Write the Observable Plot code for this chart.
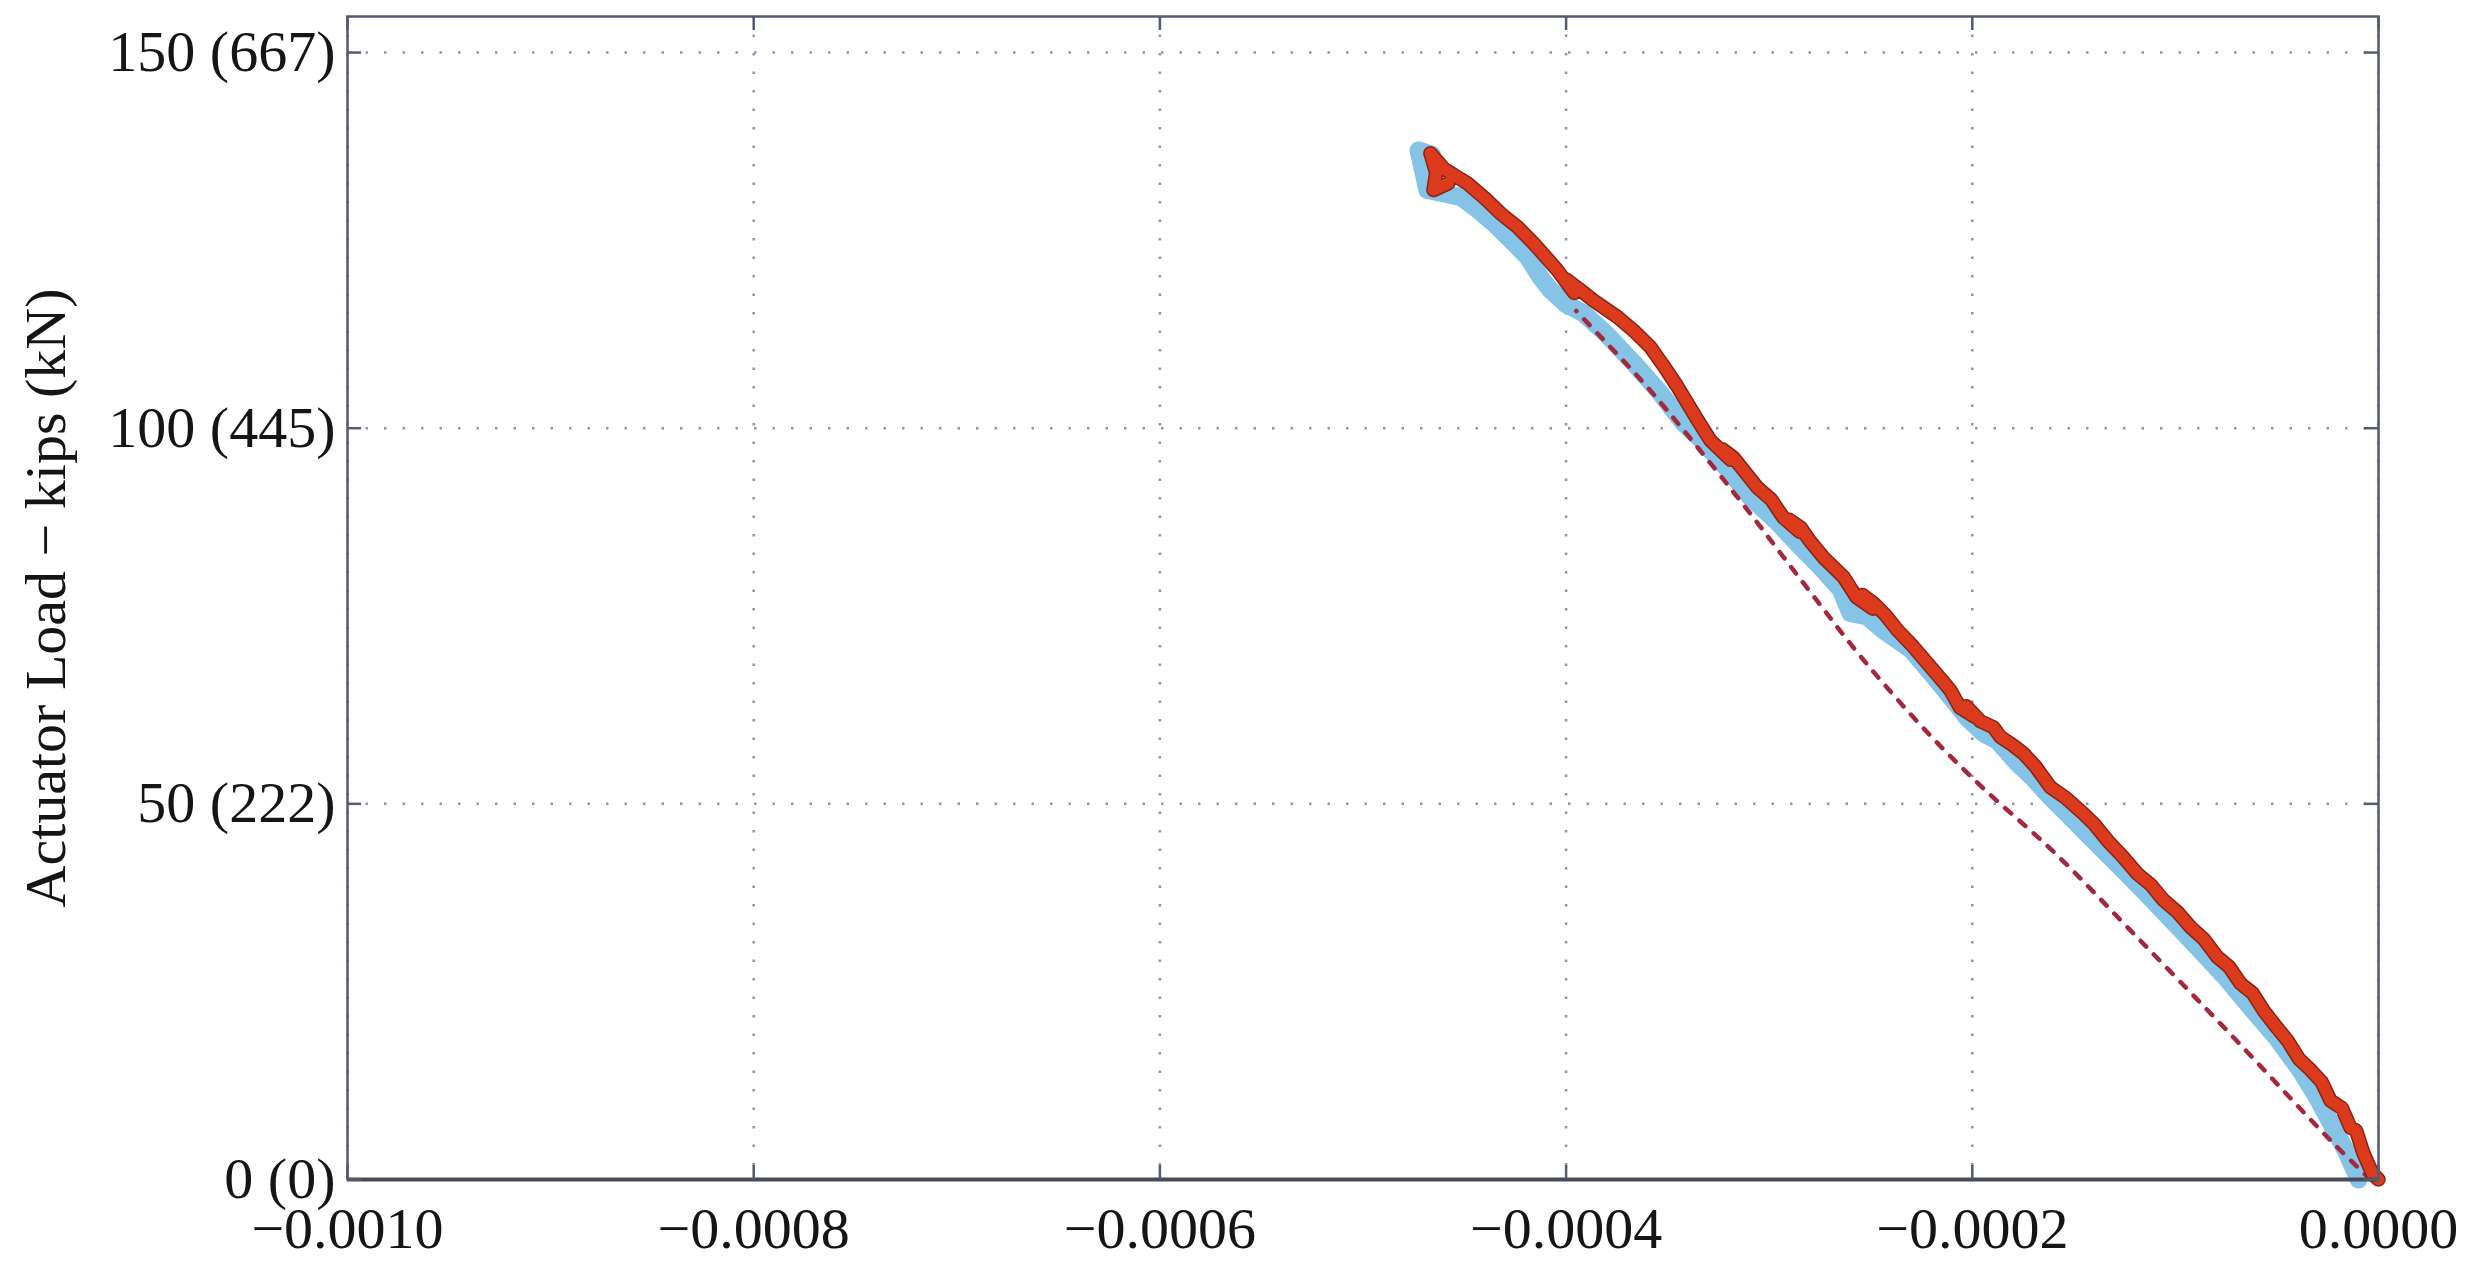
<!DOCTYPE html>
<html><head><meta charset="utf-8">
<script src="https://cdn.jsdelivr.net/npm/d3@7"></script>
<script src="https://cdn.jsdelivr.net/npm/@observablehq/plot@0.6"></script>
<style>html,body{margin:0;padding:0;background:#fff;} svg{display:block}</style>
</head><body><div id="chart"></div>
<script>
const xTicks = [-0.0010, -0.0008, -0.0006, -0.0004, -0.0002, 0.0000];
const xTickLabels = ["\u22120.0010", "\u22120.0008", "\u22120.0006", "\u22120.0004", "\u22120.0002", "0.0000"];
const yTicks = [0, 50, 100, 150];
const yTickLabels = ["0 (0)", "50 (222)", "100 (445)", "150 (667)"];
const yLabel = "Actuator Load \u2212 kips (kN)";

// light blue series (strain, load kips)
const blueStrain = [
  -0.0000098, -0.0000160, -0.0000222, -0.0000300, -0.0000384, -0.0000500, -0.0000630, -0.0000750, -0.0000877, -0.0001000,
  -0.0001123, -0.0001250, -0.0001369, -0.0001500, -0.0001615, -0.0001700, -0.0001778, -0.0001876, -0.0001945, -0.0002024,
  -0.0002100, -0.0002191, -0.0002300, -0.0002437, -0.0002520, -0.0002600, -0.0002650, -0.0002750, -0.0002846, -0.0002960,
  -0.0003092, -0.0003180, -0.0003255, -0.0003340, -0.0003422, -0.0003540, -0.0003668, -0.0003800, -0.0003914, -0.0004000,
  -0.0004077, -0.0004126, -0.0004190, -0.0004270, -0.0004357, -0.0004440, -0.0004520, -0.0004683, -0.0004727, -0.0004660
];
const blueLoad = [
  0.0, 3.8, 6.9, 10.8, 14.5, 18.8, 22.9, 26.8, 30.5, 34.0,
  37.5, 41.0, 44.2, 47.8, 50.9, 53.4, 55.4, 58.4, 59.4, 61.4,
  64.0, 67.0, 70.5, 73.1, 75.0, 75.4, 78.6, 81.6, 84.2, 87.5,
  90.8, 93.8, 96.1, 98.6, 100.7, 104.8, 108.7, 112.5, 115.3, 116.5,
  118.4, 120.1, 122.8, 125.0, 127.3, 129.2, 130.8, 131.7, 137.0, 136.4
];

// red series (strain, load kips)
const redStrain = [
  0.0000000, -0.0000030, -0.0000074, -0.0000110, -0.0000138, -0.0000180, -0.0000236, -0.0000280, -0.0000335, -0.0000390,
  -0.0000448, -0.0000500, -0.0000566, -0.0000620, -0.0000680, -0.0000735, -0.0000793, -0.0000860, -0.0000926, -0.0000990,
  -0.0001059, -0.0001120, -0.0001187, -0.0001260, -0.0001334, -0.0001400, -0.0001453, -0.0001540, -0.0001615, -0.0001690,
  -0.0001748, -0.0001800, -0.0001861, -0.0001896, -0.0001960, -0.0002030, -0.0001990, -0.0002060, -0.0002108, -0.0002160,
  -0.0002221, -0.0002290, -0.0002368, -0.0002430, -0.0002486, -0.0002540, -0.0002490, -0.0002570, -0.0002634, -0.0002733,
  -0.0002800, -0.0002846, -0.0002900, -0.0002850, -0.0002930, -0.0002990, -0.0003058, -0.0003120, -0.0003176, -0.0003230,
  -0.0003190, -0.0003290, -0.0003353, -0.0003451, -0.0003520, -0.0003585, -0.0003660, -0.0003747, -0.0003865, -0.0003940,
  -0.0004000, -0.0003960, -0.0004042, -0.0004100, -0.0004160, -0.0004240, -0.0004323, -0.0004400, -0.0004486, -0.0004535,
  -0.0004600, -0.0004668, -0.0004640, -0.0004653, -0.0004580
];
const redLoad = [
  0.0, 0.8, 3.5, 6.5, 6.9, 9.5, 10.5, 13.0, 14.6, 16.0,
  18.5, 20.2, 22.5, 24.8, 26.1, 28.3, 29.6, 32.0, 33.6, 35.6,
  37.2, 39.2, 40.7, 43.0, 45.1, 47.3, 48.7, 50.8, 52.2, 55.0,
  56.7, 57.8, 58.9, 60.2, 61.0, 63.0, 61.6, 62.8, 65.1, 66.8,
  68.7, 70.9, 73.1, 75.2, 76.7, 77.8, 76.0, 77.5, 80.2, 82.8,
  85.0, 86.8, 87.8, 86.2, 88.1, 90.5, 92.1, 94.2, 96.1, 97.2,
  95.8, 98.4, 101.1, 105.5, 108.3, 110.8, 112.8, 114.8, 117.0, 118.6,
  119.8, 118.0, 121.0, 122.8, 124.6, 126.8, 128.6, 130.6, 132.6, 133.4,
  134.5, 136.6, 134.0, 131.7, 132.6
];

// dotted reference curve (strain, load kips)
const refStrain = [-0.0000040, -0.0000236, -0.0000745, -0.0001205, -0.0001599, -0.0001951, -0.0002214, -0.0002534, -0.0002829, -0.0003182, -0.0003601, -0.0003831, -0.0003950];
const refLoad = [0.0, 5.2, 19.8, 32.7, 43.6, 52.2, 59.3, 69.1, 79.3, 91.7, 105.5, 112.2, 115.6];

const blue = blueStrain.map((x, i) => ({x, y: blueLoad[i]}));
const red = redStrain.map((x, i) => ({x, y: redLoad[i]}));
const ref = refStrain.map((x, i) => ({x, y: refLoad[i]}));

const W = 2474, H = 1268;
const mL = 347, mR = 96, mT = 16, mB = 89;
const plotW = W - mL - mR, plotH = H - mT - mB;
const tickLen = 14;
const gridColor = "#8e92b4";
const frameColor = "#555a6c";

const chart = Plot.plot({
  width: W, height: H,
  marginLeft: mL, marginRight: mR, marginTop: mT, marginBottom: mB,
  x: {domain: [-0.001, 0]},
  y: {domain: [0, 154.8]},
  style: {fontFamily: "'Liberation Serif', 'Times New Roman', serif", fontSize: "58px", color: "#151515", background: "#fff"},
  marks: [
    Plot.gridX(xTicks, {stroke: gridColor, strokeOpacity: 1, strokeWidth: 2.5, strokeDasharray: "2.5,16"}),
    Plot.gridY(yTicks, {stroke: gridColor, strokeOpacity: 1, strokeWidth: 2.5, strokeDasharray: "2.5,16"}),
    Plot.line(blue, {x: "x", y: "y", stroke: "#85c3e7", strokeWidth: 18, strokeLinejoin: "round", strokeLinecap: "round"}),
    Plot.line(ref, {x: "x", y: "y", curve: "catmull-rom", stroke: "#a3283c", strokeWidth: 4.5, strokeDasharray: "8,11"}),
    Plot.line(red, {x: "x", y: "y", stroke: "#8a2216", strokeWidth: 14.5, strokeLinejoin: "round", strokeLinecap: "round"}),
    Plot.line(red, {x: "x", y: "y", stroke: "#dc3a1d", strokeWidth: 11.5, strokeLinejoin: "round", strokeLinecap: "round"}),
    Plot.frame({stroke: frameColor, strokeWidth: 2.5}),
    Plot.ruleY([0], {stroke: "#474a5a", strokeWidth: 4}),
    // inward tick marks on all four sides
    Plot.ruleX(xTicks, {x: d => d, stroke: frameColor, strokeWidth: 2.5, insetTop: plotH - tickLen}),
    Plot.ruleX(xTicks, {x: d => d, stroke: frameColor, strokeWidth: 2.5, insetBottom: plotH - tickLen}),
    Plot.ruleY(yTicks, {y: d => d, stroke: frameColor, strokeWidth: 2.5, insetRight: plotW - tickLen}),
    Plot.ruleY(yTicks, {y: d => d, stroke: frameColor, strokeWidth: 2.5, insetLeft: plotW - tickLen}),
    Plot.axisX(xTicks, {tickSize: 0, tickPadding: 27, tickFormat: d => xTickLabels[xTicks.indexOf(d)], fontSize: 58, label: null}),
    Plot.axisY(yTicks, {tickSize: 0, tickPadding: 12, tickFormat: d => yTickLabels[yTicks.indexOf(d)], fontSize: 58, label: null}),
    Plot.text([yLabel], {frameAnchor: "left", dx: -301, rotate: -90, textAnchor: "middle", text: d => d, fontSize: 58, fill: "#151515"})
  ]
});
document.getElementById("chart").appendChild(chart);
</script>
</body></html>
